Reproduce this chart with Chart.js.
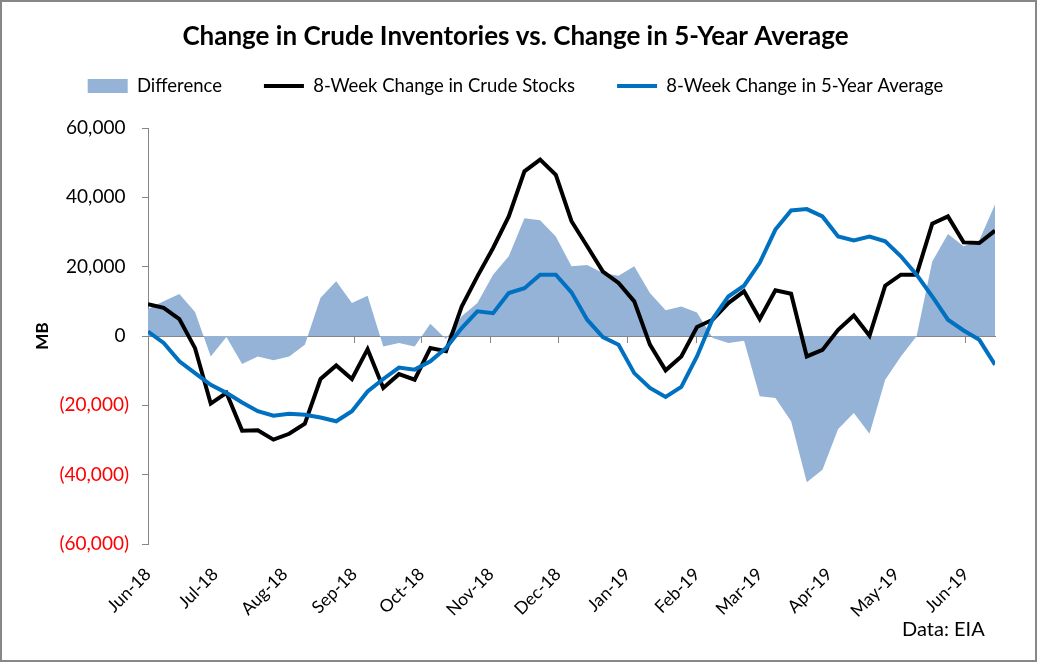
<!DOCTYPE html>
<html>
<head>
<meta charset="utf-8">
<script src="https://cdn.jsdelivr.net/npm/chart.js@4.4.1/dist/chart.umd.min.js"></script>
<style>
  html, body { margin: 0; padding: 0; background: #fff; }
  #wrap { width: 1037px; height: 662px; box-sizing: border-box; border: 2px solid #878787; background: #fff; }
  canvas { display: block; }
</style>
</head>
<body>
<div id="wrap"><canvas id="chart" width="1033" height="658"></canvas></div>
<script>
// weekly EIA report dates
const weekDates = [
  "2018-06-01", "2018-06-08", "2018-06-15", "2018-06-22", "2018-06-29",
  "2018-07-06", "2018-07-13", "2018-07-20", "2018-07-27",
  "2018-08-03", "2018-08-10", "2018-08-17", "2018-08-24", "2018-08-31",
  "2018-09-07", "2018-09-14", "2018-09-21", "2018-09-28",
  "2018-10-05", "2018-10-12", "2018-10-19", "2018-10-26",
  "2018-11-02", "2018-11-09", "2018-11-16", "2018-11-23", "2018-11-30",
  "2018-12-07", "2018-12-14", "2018-12-21", "2018-12-28",
  "2019-01-04", "2019-01-11", "2019-01-18", "2019-01-25",
  "2019-02-01", "2019-02-08", "2019-02-15", "2019-02-22",
  "2019-03-01", "2019-03-08", "2019-03-15", "2019-03-22", "2019-03-29",
  "2019-04-05", "2019-04-12", "2019-04-19", "2019-04-26",
  "2019-05-03", "2019-05-10", "2019-05-17", "2019-05-24", "2019-05-31",
  "2019-06-07", "2019-06-14"
];

const crudeStocks = [
  9200, 8100, 4900, -3500, -19500, -16400, -27300, -27200, -29900, -28200,
  -25300, -12400, -8500, -12400, -3800, -15000, -11000, -12600, -3500, -4400,
  8500, 17200, 25400, 34500, 47500, 50900, 46500, 33100, 25900, 18600,
  15300, 10000, -2500, -9900, -5900, 2600, 4700, 9500, 12900, 4900,
  13200, 12200, -5900, -4000, 1800, 5900, 100, 14500, 17700, 17700,
  32400, 34500, 27000, 26800, 30400
];

const fiveYearAvg = [
  1300, -2000, -7300, -10700, -14100, -16400, -19200, -21700, -23000, -22400,
  -22700, -23500, -24600, -21700, -16000, -12400, -9100, -9700, -7300, -3500,
  2300, 7100, 6600, 12400, 13800, 17700, 17700, 12600, 4700, -300,
  -2500, -10700, -15000, -17600, -14700, -5900, 4900, 11400, 14500, 21100,
  30700, 36200, 36600, 34500, 28700, 27600, 28700, 27300, 23000, 17700,
  11400, 4700, 1600, -1100, -8300
];

const difference = [
  7800, 10000, 12100, 6900, -5900, -300, -8100, -5900, -7000, -5900,
  -2500, 11000, 15800, 9500, 11600, -3000, -2000, -3000, 3500, -900,
  5700, 9500, 17700, 23000, 34000, 33400, 28700, 20100, 20500, 18200,
  17400, 20100, 12400, 7400, 8500, 6800, -600, -2000, -1400, -17400,
  -17900, -24600, -42200, -38600, -26800, -22200, -28200, -12600, -5900, -100,
  21500, 29400, 25900, 27600, 37900
];

const monthStarts = [
  "2018-06-01", "2018-07-01", "2018-08-01", "2018-09-01", "2018-10-01", "2018-11-01",
  "2018-12-01", "2019-01-01", "2019-02-01", "2019-03-01", "2019-04-01", "2019-05-01", "2019-06-01"
];
const monthLabels = [
  "Jun-18", "Jul-18", "Aug-18", "Sep-18", "Oct-18", "Nov-18",
  "Dec-18", "Jan-19", "Feb-19", "Mar-19", "Apr-19", "May-19", "Jun-19"
];

const FONT = "Lato, 'Noto Sans', sans-serif";
const AXIS_GREY = "#868686";

// days since the first week, used as the date axis
const dayOf = s => (Date.parse(s) - Date.parse(weekDates[0])) / 86400000;
const weekDays = weekDates.map(dayOf);
const monthDays = monthStarts.map(dayOf);
const lastDay = weekDays[weekDays.length - 1];

const toPoints = arr => arr.map((v, i) => ({ x: weekDays[i], y: v }));
const monthTicks = scale => { scale.ticks = monthDays.map(v => ({ value: v })); };

// excel style: negatives in brackets, positives keep room for the bracket
const fmtMB = v => v < 0
  ? "(" + Math.abs(v).toLocaleString("en-US") + ")"
  : v.toLocaleString("en-US") + "\u2009\u200A";

Chart.defaults.color = "#000";
Chart.defaults.font.family = FONT;

new Chart(document.getElementById("chart"), {
  type: "line",
  data: {
    datasets: [
      {
        label: "Difference",
        data: toPoints(difference),
        fill: "origin",
        backgroundColor: "#95B3D7",
        borderColor: "rgba(0,0,0,0)",
        borderWidth: 0,
        pointRadius: 0,
        pointStyle: "rect",
        order: 3
      },
      {
        label: "8-Week Change in Crude Stocks",
        data: toPoints(crudeStocks),
        borderColor: "#000000",
        backgroundColor: "#000000",
        borderWidth: 4,
        pointRadius: 0,
        pointStyle: "line",
        order: 2
      },
      {
        label: "8-Week Change in 5-Year Average",
        data: toPoints(fiveYearAvg),
        borderColor: "#0070C0",
        backgroundColor: "#0070C0",
        borderWidth: 4,
        pointRadius: 0,
        pointStyle: "line",
        order: 1
      }
    ]
  },
  options: {
    responsive: false,
    animation: false,
    devicePixelRatio: 1,
    layout: { padding: { left: 34, right: 40, top: 0, bottom: 0 } },
    plugins: {
      tooltip: { enabled: false },
      title: {
        display: true,
        text: "Change in Crude Inventories vs. Change in 5-Year Average",
        font: { size: 26, weight: "bold", family: FONT },
        padding: { top: 19.4, bottom: -17.85 }
      },
      legend: {
        display: true,
        position: "top",
        labels: {
          usePointStyle: true,
          pointStyleWidth: 40,
          boxHeight: 14,
          padding: 42,
          font: { size: 18.5, family: FONT },
          sort: (a, b) => a.datasetIndex - b.datasetIndex
        }
      },
      subtitle: {
        display: true,
        text: "Data: EIA  ",
        position: "bottom",
        align: "end",
        font: { size: 20, family: FONT },
        padding: { top: 0, bottom: 18 }
      }
    },
    scales: {
      x: {
        type: "linear",
        position: { y: 0 },
        min: 0,
        max: lastDay,
        z: 1,
        afterBuildTicks: monthTicks,
        ticks: { display: false },
        grid: { drawOnChartArea: false, tickLength: 6, color: AXIS_GREY },
        border: { color: AXIS_GREY, width: 1 }
      },
      xLabels: {
        type: "linear",
        position: "bottom",
        min: 0,
        max: lastDay,
        afterBuildTicks: monthTicks,
        afterFit: s => { s.height = 74; },
        ticks: {
          autoSkip: false,
          minRotation: 45,
          maxRotation: 45,
          padding: 12,
          font: { size: 17.5, family: FONT },
          callback: (v, i) => monthLabels[i]
        },
        grid: { display: false },
        border: { display: false }
      },
      spacer: {
        type: "linear",
        position: "top",
        afterFit: s => { s.height = 22.75; },
        ticks: { display: false },
        grid: { display: false },
        border: { display: false }
      },
      y: {
        min: -60000,
        max: 60000,
        afterFit: s => { s.width = 112; },
        ticks: {
          stepSize: 20000,
          padding: 13,
          font: { size: 19, family: FONT },
          color: c => (c.tick && c.tick.value < 0 ? "#FF0000" : "#000000"),
          callback: fmtMB
        },
        grid: { drawOnChartArea: false, tickLength: 6, color: AXIS_GREY },
        border: { color: AXIS_GREY, width: 1 },
        title: {
          display: true,
          text: "MB",
          font: { size: 17, weight: "bold", family: FONT },
          padding: { top: -4, bottom: 0 }
        }
      }
    }
  }
});
</script>
</body>
</html>
